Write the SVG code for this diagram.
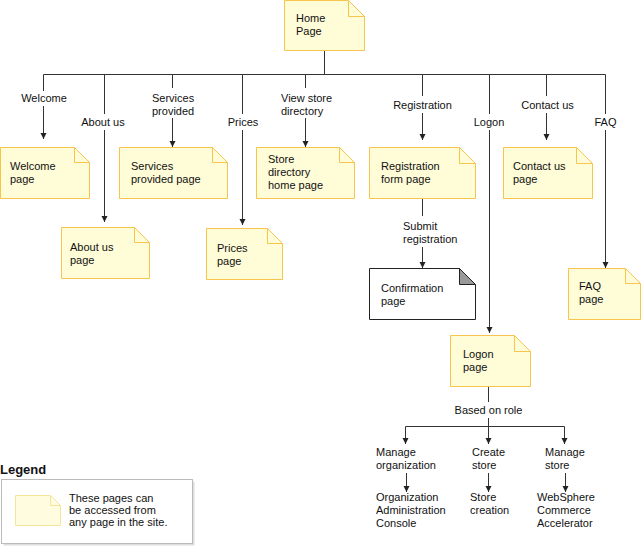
<svg xmlns="http://www.w3.org/2000/svg" width="642" height="548" viewBox="0 0 642 548">
<style>
text{font-family:"Liberation Sans",Arial,sans-serif;font-size:11px;fill:#111}
.lbl{text-anchor:middle}
.page{fill:#fffcd8;stroke:#f7c44e;stroke-width:1}
.fold{fill:none;stroke:#f7c44e;stroke-width:1}
.conf{fill:#fff;stroke:#222;stroke-width:1}
.cfold{fill:#999;stroke:#222;stroke-width:1}
.ln{fill:none;stroke:#333;stroke-width:1}
.ar{fill:none;stroke:#333;stroke-width:1;marker-end:url(#ah)}
</style>
<defs>
<marker id="ah" markerUnits="userSpaceOnUse" markerWidth="7" markerHeight="7" refX="6" refY="3" orient="auto">
<path d="M0,0 L6,3 L0,6 z" fill="#222"/>
</marker>
</defs>

<g id="connectors">
<path class="ln" d="M324.5,50.5 V74.5 M43.5,74.5 H605.5"/>
<!-- Welcome -->
<path class="ln" d="M43.5,74.5 V91"/><path class="ar" d="M43.5,106 V139"/>
<text class="lbl" x="44" y="102">Welcome</text>
<!-- About us -->
<path class="ln" d="M104.5,74.5 V114"/><path class="ar" d="M104.5,130 V222"/>
<text class="lbl" x="103" y="126">About us</text>
<!-- Services -->
<path class="ln" d="M172.5,74.5 V88"/><path class="ar" d="M172.5,118 V147"/>
<text x="152" y="102">Services</text><text x="152" y="115">provided</text>
<!-- Prices -->
<path class="ln" d="M242.5,74.5 V114"/><path class="ar" d="M242.5,130 V225"/>
<text class="lbl" x="243" y="126">Prices</text>
<!-- View store -->
<path class="ln" d="M305.5,74.5 V88"/><path class="ar" d="M305.5,118 V147"/>
<text x="281" y="102">View store</text><text x="281" y="115">directory</text>
<!-- Registration -->
<path class="ln" d="M422.5,74.5 V96"/><path class="ar" d="M422.5,113 V140"/>
<text class="lbl" x="422.5" y="109">Registration</text>
<!-- Logon -->
<path class="ln" d="M489.5,74.5 V114"/><path class="ar" d="M489.5,130 V333"/>
<text class="lbl" x="489" y="126">Logon</text>
<!-- Contact us -->
<path class="ln" d="M546.5,74.5 V96"/><path class="ar" d="M546.5,113 V140"/>
<text class="lbl" x="547.5" y="109">Contact us</text>
<!-- FAQ -->
<path class="ln" d="M605.5,74.5 V114"/><path class="ar" d="M605.5,130 V268"/>
<text class="lbl" x="605.5" y="126">FAQ</text>
<!-- Submit registration -->
<path class="ln" d="M422.5,198.5 V216"/><path class="ar" d="M422.5,247 V268"/>
<text x="403" y="230">Submit</text><text x="403" y="243">registration</text>
<!-- Based on role -->
<path class="ln" d="M488.5,386.5 V402"/><path class="ln" d="M488.5,418 V426.5 M405.5,426.5 H564.5"/>
<text class="lbl" x="488.5" y="414">Based on role</text>
<path class="ar" d="M405.5,426.5 V444"/>
<path class="ar" d="M488.5,426.5 V444"/>
<path class="ar" d="M564.5,426.5 V444"/>
<path class="ar" d="M406.5,473 V492"/>
<path class="ar" d="M488.5,473 V492"/>
<path class="ar" d="M565.5,473 V492"/>
</g>

<g id="home">
<path class="page" d="M284.5,0.5 H348.5 L364.5,16.5 V50.5 H284.5 Z"/><path class="fold" d="M348.5,0.5 V16.5 H364.5"/>
<text x="296" y="22">Home</text><text x="296" y="35">Page</text>
</g>
<g id="welcome">
<path class="page" d="M0.5,147.5 H74.5 L89.5,162.5 V198.5 H0.5 Z"/><path class="fold" d="M74.5,147.5 V162.5 H89.5"/>
<text x="10" y="170">Welcome</text><text x="10" y="183">page</text>
</g>
<g id="services">
<path class="page" d="M119.5,147.5 H212.5 L227.5,162.5 V198.5 H119.5 Z"/><path class="fold" d="M212.5,147.5 V162.5 H227.5"/>
<text x="131" y="170">Services</text><text x="131" y="183">provided page</text>
</g>
<g id="store">
<path class="page" d="M256.5,147.5 H339.5 L354.5,162.5 V198.5 H256.5 Z"/><path class="fold" d="M339.5,147.5 V162.5 H354.5"/>
<text x="268" y="163">Store</text><text x="268" y="176">directory</text><text x="268" y="189">home page</text>
</g>
<g id="registration">
<path class="page" d="M369.5,147.5 H459.5 L475.5,163.5 V198.5 H369.5 Z"/><path class="fold" d="M459.5,147.5 V163.5 H475.5"/>
<text x="381" y="170">Registration</text><text x="381" y="183">form page</text>
</g>
<g id="contact">
<path class="page" d="M503.5,147.5 H576.5 L592.5,163.5 V198.5 H503.5 Z"/><path class="fold" d="M576.5,147.5 V163.5 H592.5"/>
<text x="513" y="170">Contact us</text><text x="513" y="183">page</text>
</g>
<g id="about">
<path class="page" d="M61.5,227.5 H134.5 L149.5,242.5 V278.5 H61.5 Z"/><path class="fold" d="M134.5,227.5 V242.5 H149.5"/>
<text x="70" y="251">About us</text><text x="70" y="264">page</text>
</g>
<g id="prices">
<path class="page" d="M206.5,228.5 H267.5 L282.5,243.5 V279.5 H206.5 Z"/><path class="fold" d="M267.5,228.5 V243.5 H282.5"/>
<text x="217" y="252">Prices</text><text x="217" y="265">page</text>
</g>
<g id="confirmation">
<path class="conf" d="M369.5,268.5 H459.5 L475.5,284.5 V319.5 H369.5 Z"/><path class="cfold" d="M459.5,268.5 V284.5 H475.5 Z"/>
<text x="381" y="292">Confirmation</text><text x="381" y="305">page</text>
</g>
<g id="faq">
<path class="page" d="M568.5,268.5 H625.5 L640.5,283.5 V319.5 H568.5 Z"/><path class="fold" d="M625.5,268.5 V283.5 H640.5"/>
<text x="579" y="290">FAQ</text><text x="579" y="303">page</text>
</g>
<g id="logon">
<path class="page" d="M450.5,335.5 H514.5 L530.5,351.5 V386.5 H450.5 Z"/><path class="fold" d="M514.5,335.5 V351.5 H530.5"/>
<text x="463" y="358">Logon</text><text x="463" y="371">page</text>
</g>
<g id="roles">
<text x="376" y="456">Manage</text><text x="376" y="469">organization</text>
<text x="472" y="456">Create</text><text x="472" y="469">store</text>
<text x="545" y="456">Manage</text><text x="545" y="469">store</text>
<text x="376" y="501">Organization</text><text x="376" y="514">Administration</text><text x="376" y="527">Console</text>
<text x="470" y="501">Store</text><text x="470" y="514">creation</text>
<text x="537" y="501">WebSphere</text><text x="537" y="514">Commerce</text><text x="537" y="527">Accelerator</text>
</g>
<g id="legend">
<text x="0" y="474" style="font-size:13px;font-weight:bold">Legend</text>
<rect x="3.5" y="481.5" width="191" height="64" fill="#ddd"/>
<rect x="1.5" y="479.5" width="191" height="64" fill="#fff" stroke="#bbb"/>
<path d="M15.5,495.5 H50.5 L60.5,505.5 V525.5 H15.5 Z" fill="#fffce0" stroke="#f6e39c"/><path d="M50.5,495.5 V505.5 H60.5" fill="none" stroke="#f6e39c"/>
<text x="69" y="502">These pages can</text><text x="69" y="514">be accessed from</text><text x="69" y="526">any page in the site.</text>
</g>
</svg>
